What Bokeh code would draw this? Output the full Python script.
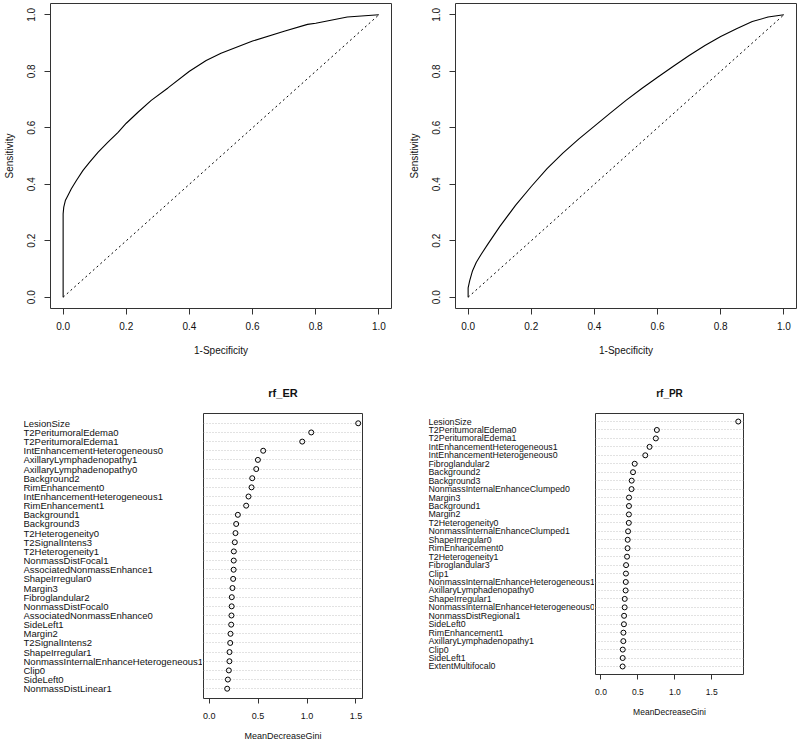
import numpy as np
from bokeh.plotting import figure
from bokeh.layouts import column, row
from bokeh.models import Range1d, FixedTicker, NumeralTickFormatter
from bokeh.core.properties import value
from bokeh.embed import file_html
from bokeh.resources import INLINE

FONT = "Liberation Sans"
INK = "#111111"
BOX = "#333333"

# ---------------- data ----------------
er_fpr = [0.0, 0.0, 0.002, 0.007, 0.016, 0.026, 0.042, 0.063, 0.084, 0.111, 0.142, 0.174,
          0.200, 0.237, 0.279, 0.332, 0.400, 0.453, 0.500, 0.600, 0.700, 0.774, 0.800, 0.900, 1.0]
er_tpr = [0.0, 0.295, 0.319, 0.342, 0.362, 0.384, 0.413, 0.449, 0.478, 0.514, 0.549, 0.584,
          0.616, 0.655, 0.697, 0.741, 0.800, 0.838, 0.864, 0.907, 0.942, 0.966, 0.970, 0.992, 1.0]

pr_fpr = [0.0, 0.0, 0.005, 0.014, 0.026, 0.042, 0.063, 0.10, 0.15, 0.20, 0.25, 0.30, 0.35,
          0.40, 0.45, 0.50, 0.55, 0.60, 0.65, 0.70, 0.75, 0.80, 0.85, 0.90, 0.95, 1.0]
pr_tpr = [0.0, 0.033, 0.059, 0.094, 0.124, 0.153, 0.189, 0.250, 0.325, 0.392, 0.455, 0.510, 0.560,
          0.606, 0.652, 0.697, 0.739, 0.779, 0.818, 0.856, 0.891, 0.923, 0.951, 0.976, 0.992, 1.0]

chance = [0.0, 1.0]
roc_ticks = [0.0, 0.2, 0.4, 0.6, 0.8, 1.0]

er_features = ["LesionSize", "T2PeritumoralEdema0", "T2PeritumoralEdema1",
               "IntEnhancementHeterogeneous0", "AxillaryLymphadenopathy1", "AxillaryLymphadenopathy0",
               "Background2", "RimEnhancement0", "IntEnhancementHeterogeneous1", "RimEnhancement1",
               "Background1", "Background3", "T2Heterogeneity0", "T2SignalIntens3", "T2Heterogeneity1",
               "NonmassDistFocal1", "AssociatedNonmassEnhance1", "ShapeIrregular0", "Margin3",
               "Fibroglandular2", "NonmassDistFocal0", "AssociatedNonmassEnhance0", "SideLeft1",
               "Margin2", "T2SignalIntens2", "ShapeIrregular1", "NonmassInternalEnhanceHeterogeneous1",
               "Clip0", "SideLeft0", "NonmassDistLinear1"]
er_gini = [1.523, 1.043, 0.951, 0.552, 0.498, 0.481, 0.440, 0.433, 0.402, 0.378,
           0.293, 0.276, 0.269, 0.262, 0.252, 0.251, 0.250, 0.245, 0.238, 0.231,
           0.230, 0.228, 0.225, 0.218, 0.215, 0.208, 0.207, 0.201, 0.191, 0.184]

pr_features = ["LesionSize", "T2PeritumoralEdema0", "T2PeritumoralEdema1",
               "IntEnhancementHeterogeneous1", "IntEnhancementHeterogeneous0", "Fibroglandular2",
               "Background2", "Background3", "NonmassInternalEnhanceClumped0", "Margin3",
               "Background1", "Margin2", "T2Heterogeneity0", "NonmassInternalEnhanceClumped1",
               "ShapeIrregular0", "RimEnhancement0", "T2Heterogeneity1", "Fibroglandular3", "Clip1",
               "NonmassInternalEnhanceHeterogeneous1", "AxillaryLymphadenopathy0", "ShapeIrregular1",
               "NonmassInternalEnhanceHeterogeneous0", "NonmassDistRegional1", "SideLeft0",
               "RimEnhancement1", "AxillaryLymphadenopathy1", "Clip0", "SideLeft1", "ExtentMultifocal0"]
pr_gini = [1.859, 0.757, 0.743, 0.658, 0.600, 0.457, 0.434, 0.416, 0.414, 0.380,
           0.379, 0.378, 0.377, 0.367, 0.362, 0.360, 0.353, 0.340, 0.338, 0.336,
           0.334, 0.322, 0.321, 0.313, 0.311, 0.304, 0.303, 0.295, 0.294, 0.293]

gini_ticks = [0.0, 0.5, 1.0, 1.5]


# ---------------- helpers ----------------
def style_axis(ax, ticks, size, label_size, tick_out, label_standoff, axis_standoff):
    ax.ticker = FixedTicker(ticks=ticks)
    ax.formatter = NumeralTickFormatter(format="0.0")
    ax.axis_line_color = None
    ax.major_tick_out = tick_out
    ax.major_tick_in = 0
    ax.major_tick_line_color = BOX
    ax.minor_tick_line_color = None
    ax.major_label_text_font = FONT
    ax.major_label_text_font_size = size
    ax.major_label_text_color = INK
    ax.major_label_standoff = label_standoff
    ax.axis_label_text_font = FONT
    ax.axis_label_text_font_size = label_size
    ax.axis_label_text_font_style = "normal"
    ax.axis_label_text_color = INK
    ax.axis_label_standoff = axis_standoff


TOP_ROW = 366


def roc_fig(fpr, tpr, width, left, right):
    p = figure(width=width, height=TOP_ROW, x_range=Range1d(-0.04, 1.04), y_range=Range1d(-0.04, 1.04),
               output_backend="svg", toolbar_location=None,
               min_border_left=left, min_border_right=right, min_border_top=3,
               min_border_bottom=TOP_ROW - 308,
               x_axis_label="1-Specificity", y_axis_label="Sensitivity")
    p.grid.visible = False
    p.outline_line_color = BOX
    p.outline_line_width = 1
    p.line(fpr, tpr, line_color="black", line_width=1.1)
    p.line(chance, chance, line_color="black", line_dash="2 3", line_width=1)
    style_axis(p.xaxis[0], roc_ticks, "10px", "10px", 6, 7, 12)
    style_axis(p.yaxis[0], roc_ticks, "10px", "10px", 6, 9, 10)
    p.yaxis[0].major_label_orientation = "vertical"
    return p


TOP = 413 - TOP_ROW
BOTTOM = 46


def dot_figs(features, gini, xr, pad, title, title_size, height, width, right,
             label_width, label_left, label_size, tick_size, tick_standoff, axis_standoff):
    n = len(features)
    ypos = list(np.arange(n, 0, -1))
    yr = Range1d(1 - pad, n + pad)

    p = figure(width=width, height=height, x_range=Range1d(*xr), y_range=yr,
               output_backend="svg", toolbar_location=None, y_axis_location=None,
               min_border_left=1, min_border_right=right, min_border_top=TOP, min_border_bottom=BOTTOM,
               title=title, x_axis_label="MeanDecreaseGini")
    p.grid.visible = False
    p.outline_line_color = BOX
    p.outline_line_width = 1
    p.title.text_font = FONT
    p.title.text_font_size = title_size
    p.title.text_font_style = "bold"
    p.title.text_color = INK
    p.title.align = "center"
    p.title.standoff = 29
    p.hspan(y=ypos, line_color="#c4c4c4", line_dash="1 2", line_width=1)
    p.scatter(gini, ypos, marker="circle", size=5, fill_color=None, line_color="black", line_width=1)
    style_axis(p.xaxis[0], gini_ticks, tick_size, tick_size, 5, tick_standoff, axis_standoff)

    lab = figure(width=label_width, height=height, x_range=Range1d(0, 1), y_range=yr,
                 output_backend="svg", toolbar_location=None,
                 x_axis_location=None, y_axis_location=None,
                 min_border_left=label_left, min_border_right=0,
                 min_border_top=TOP, min_border_bottom=BOTTOM)
    lab.grid.visible = False
    lab.outline_line_color = None
    lab.text(x=0, y=ypos, text=features, text_font=value(FONT), text_font_size=label_size,
             text_color=INK, text_align="left", text_baseline="middle")
    return lab, p


# ---------------- figures ----------------
p1 = roc_fig(er_fpr, er_tpr, 400, 49, 9)
p2 = roc_fig(pr_fpr, pr_tpr, 400, 55, 4)

er_h = 744 - TOP_ROW
pr_h = 674 + BOTTOM - TOP_ROW
l3, p3 = dot_figs(er_features, er_gini, (-0.058, 1.567), 1.07, "rf_ER", "11px", er_h,
                  198, 38, 202, 23, "9.5px", "9px", 9, 9)
l4, p4 = dot_figs(pr_features, pr_gini, (-0.074, 1.93), 0.95, "rf_PR", "10px", pr_h,
                  206, 57, 194, 28, "8.8px", "8.5px", 9, 9)

layout = column(row(p1, p2), row(l3, p3, l4, p4))

open("out.html", "w").write(file_html(layout, INLINE))
